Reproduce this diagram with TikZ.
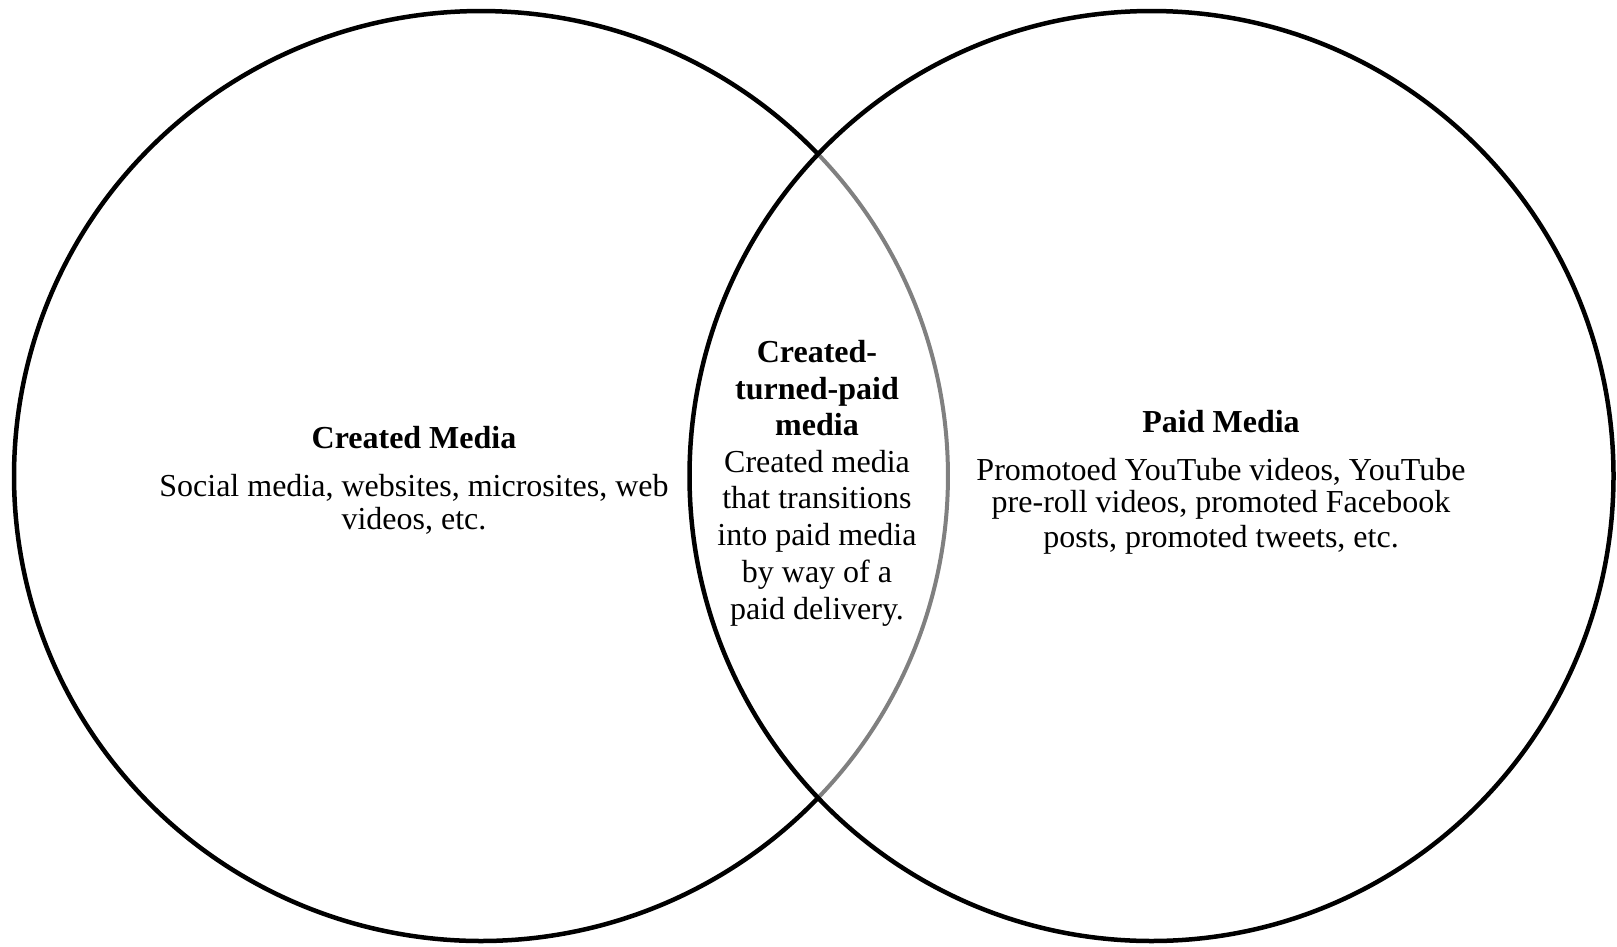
\documentclass[tikz,border=0pt]{standalone}
\usepackage{fontspec}
\setmainfont{Liberation Serif}
\begin{document}
\begin{tikzpicture}[x=1pt,y=1pt,
  ring/.style={line width=4.5pt,draw=black},
  innerarc/.style={line width=4pt,draw=black!50},
  txt/.style={anchor=base,inner sep=0pt,font=\fontsize{32}{36}\selectfont},
  ttl/.style={txt,font=\fontsize{32}{36}\selectfont\bfseries}]
\useasboundingbox[fill=white] (0,0) rectangle (1617,-946);
% left set (Created Media)
\draw[ring] (481,-476) ++(43.8:467 and 465) arc[start angle=43.8,end angle=316.2,x radius=467,y radius=465];
\draw[innerarc] (481,-476) ++(-43.8:467 and 465) arc[start angle=-43.8,end angle=43.8,x radius=467,y radius=465];
% right set (Paid Media)
\draw[ring] (1151.5,-476) ellipse[x radius=462,y radius=465];
% left texts
\node[ttl] (lt) at (414,-448) {Created Media};
\node[txt] (lb1) at (414,-496) {Social media, websites, microsites, web};
\node[txt] (lb2) at (414,-529) {videos, etc.};
% middle texts
\node[ttl] (m1) at (817,-362) {Created-};
\node[ttl] (m2) at (817,-399) {turned-paid};
\node[ttl] (m3) at (817,-435) {media};
\node[txt] (m4) at (817,-472) {Created media};
\node[txt] (m5) at (817,-508) {that transitions};
\node[txt] (m6) at (817,-545) {into paid media};
\node[txt] (m7) at (817,-582) {by way of a};
\node[txt] (m8) at (817,-619) {paid delivery.};
% right texts
\node[ttl] (rt) at (1221,-432) {Paid Media};
\node[txt] (rb1) at (1221,-480) {Promotoed YouTube videos, YouTube};
\node[txt] (rb2) at (1221,-512) {pre-roll videos, promoted Facebook};
\node[txt] (rb3) at (1221,-547) {posts, promoted tweets, etc.};
\end{tikzpicture}
\end{document}
